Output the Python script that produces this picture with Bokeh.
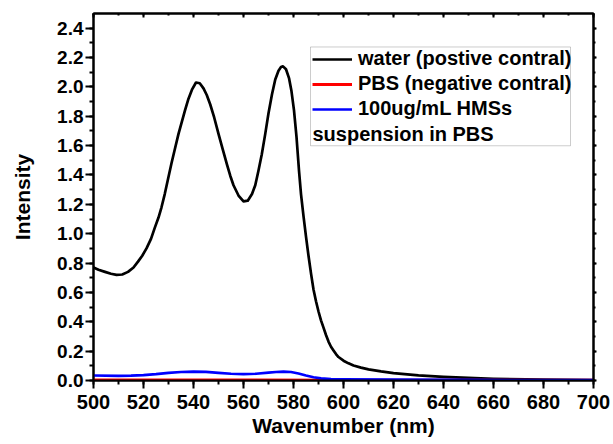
from bokeh.plotting import figure
from bokeh.models import (Range1d, LinearAxis, Legend, LegendItem, Label,
                          BoxAnnotation, SingleIntervalTicker, CustomJSTickFormatter,
                          NumeralTickFormatter)
from bokeh.embed import file_html
from bokeh.resources import INLINE

# ---- data ----
water_x = [500, 502, 504.6, 507, 509.2, 511.5, 513.8, 516, 517.8, 519.5, 521.2, 523,
           524.5, 526, 527.2, 528.5, 529.9, 531.2, 532.6, 534, 535.3, 536.6, 538,
           539.5, 541, 542.5, 544, 545.3, 546.7, 548.3, 550, 551.7, 553.4, 554.7, 556,
           558, 560, 561.7, 563.4, 564.7, 566, 567.3, 568.7, 570, 571.4, 572.7, 574,
           575, 575.8, 577, 578.2, 579.2, 580.2, 581.2, 582.2, 583, 584, 585, 586, 587,
           588, 589, 590, 591, 592, 593, 594, 595, 596, 597, 598, 600, 602, 604, 607,
           610, 615, 620, 630, 640, 650, 660, 680, 700]
water_y = [0.77, 0.755, 0.74, 0.727, 0.72, 0.722, 0.74, 0.77, 0.81, 0.85, 0.90, 0.965,
           1.04, 1.11, 1.18, 1.27, 1.38, 1.48, 1.58, 1.68, 1.76, 1.84, 1.92, 1.985,
           2.03, 2.025, 1.99, 1.945, 1.88, 1.79, 1.68, 1.575, 1.47, 1.395, 1.33,
           1.26, 1.22, 1.225, 1.27, 1.33, 1.43, 1.54, 1.68, 1.82, 1.95, 2.05, 2.11,
           2.135, 2.14, 2.12, 2.06, 1.97, 1.84, 1.66, 1.43, 1.27, 1.12, 0.98, 0.85,
           0.73, 0.62, 0.54, 0.47, 0.41, 0.36, 0.31, 0.265, 0.23, 0.205, 0.18, 0.16,
           0.135, 0.117, 0.102, 0.088, 0.076, 0.062, 0.05, 0.035, 0.025, 0.018, 0.012,
           0.006, 0.003]

pbs_x = [500, 550, 600, 650, 700]
pbs_y = [0.003, 0.003, 0.002, 0.002, 0.001]

hms_x = [500, 510, 515, 520, 525, 530, 535, 540, 545, 550, 555, 560, 565, 570, 573,
         576, 579, 582, 585, 588, 591, 595, 600, 620, 650, 680, 700]
hms_y = [0.034, 0.032, 0.033, 0.036, 0.043, 0.052, 0.058, 0.061, 0.059, 0.052, 0.046,
         0.044, 0.046, 0.053, 0.058, 0.061, 0.058, 0.048, 0.034, 0.022, 0.014, 0.010,
         0.008, 0.006, 0.004, 0.003, 0.002]

labels = ["water (postive contral)", "PBS (negative contral)", "100ug/mL HMSs"]
label_extra = "suspension in PBS"

FONT = "Liberation Sans"

p = figure(width=613, height=444, output_backend="svg", toolbar_location=None,
           x_range=Range1d(500, 700), y_range=Range1d(0, 2.5),
           min_border_left=93, min_border_right=20, min_border_top=13,
           min_border_bottom=64)
p.background_fill_color = "white"
p.border_fill_color = "white"
p.grid.visible = False
p.outline_line_color = "black"
p.outline_line_width = 2

r_w = p.line(water_x, water_y, line_color="black", line_width=2.7, line_join="round")
r_p = p.line(pbs_x, pbs_y, line_color="#ff0000", line_width=3)
r_h = p.line(hms_x, hms_y, line_color="#0000ff", line_width=2.7, line_join="round")

def style(ax, tick_font, label_font="21px"):
    ax.axis_line_color = "black"
    ax.axis_line_width = 2
    ax.major_tick_line_width = 2
    ax.minor_tick_line_width = 2
    ax.major_tick_line_color = "black"
    ax.minor_tick_line_color = "black"
    ax.major_label_text_font = FONT
    ax.major_label_text_font_style = "bold"
    ax.major_label_text_font_size = tick_font
    ax.major_label_text_color = "black"
    ax.axis_label_text_font = FONT
    ax.axis_label_text_font_style = "bold"
    ax.axis_label_text_font_size = label_font
    ax.axis_label_text_color = "black"

xa = p.xaxis[0]
xa.ticker = SingleIntervalTicker(interval=20, num_minor_ticks=2)
xa.axis_label = "Wavenumber (nm)"
style(xa, "20px", "21px")
xa.major_tick_out = 8
xa.major_tick_in = 0
xa.minor_tick_out = 4
xa.minor_tick_in = 0
xa.major_label_standoff = 6
xa.axis_label_standoff = 2

ya = p.yaxis[0]
ya.ticker = SingleIntervalTicker(interval=0.2, num_minor_ticks=2)
ya.formatter = NumeralTickFormatter(format="0.0")
ya.axis_label = "Intensity"
style(ya, "19px", "21px")
ya.major_tick_out = 8
ya.major_tick_in = 0
ya.minor_tick_out = 4
ya.minor_tick_in = 0
ya.major_label_standoff = 2
ya.axis_label_standoff = 20

blank = CustomJSTickFormatter(code="return ''")
top = LinearAxis(ticker=SingleIntervalTicker(interval=20, num_minor_ticks=2), formatter=blank)
style(top, "1px")
top.major_tick_in = 4
top.major_tick_out = 0
top.minor_tick_in = 2
top.minor_tick_out = 0
p.add_layout(top, "above")

right = LinearAxis(ticker=SingleIntervalTicker(interval=0.2, num_minor_ticks=2), formatter=blank)
style(right, "1px")
right.major_tick_in = 0
right.major_tick_out = 3
right.minor_tick_in = 0
right.minor_tick_out = 2
p.add_layout(right, "right")

# legend
legend = Legend(items=[LegendItem(label=labels[0], renderers=[r_w]),
                       LegendItem(label=labels[1], renderers=[r_p]),
                       LegendItem(label=labels[2], renderers=[r_h])],
                location=(219, 259), padding=0, margin=0, spacing=0,
                label_height=25, glyph_height=20, glyph_width=40, label_standoff=6,
                border_line_color=None, background_fill_alpha=0,
                label_text_font=FONT, label_text_font_style="bold",
                label_text_font_size="20px", label_text_color="black")
p.add_layout(legend, "center")

box = BoxAnnotation(left=586.8, right=690.8, bottom=1.599, top=2.272,
                    fill_alpha=0, line_color="#555555", line_width=1)
p.add_layout(box)
extra = Label(x=587.6, y=1.68, text=label_extra, text_font=FONT,
              text_font_style="bold", text_font_size="20px", text_color="black",
              text_baseline="middle", text_align="left")
p.add_layout(extra)

open("out.html", "w").write(file_html(p, INLINE))
